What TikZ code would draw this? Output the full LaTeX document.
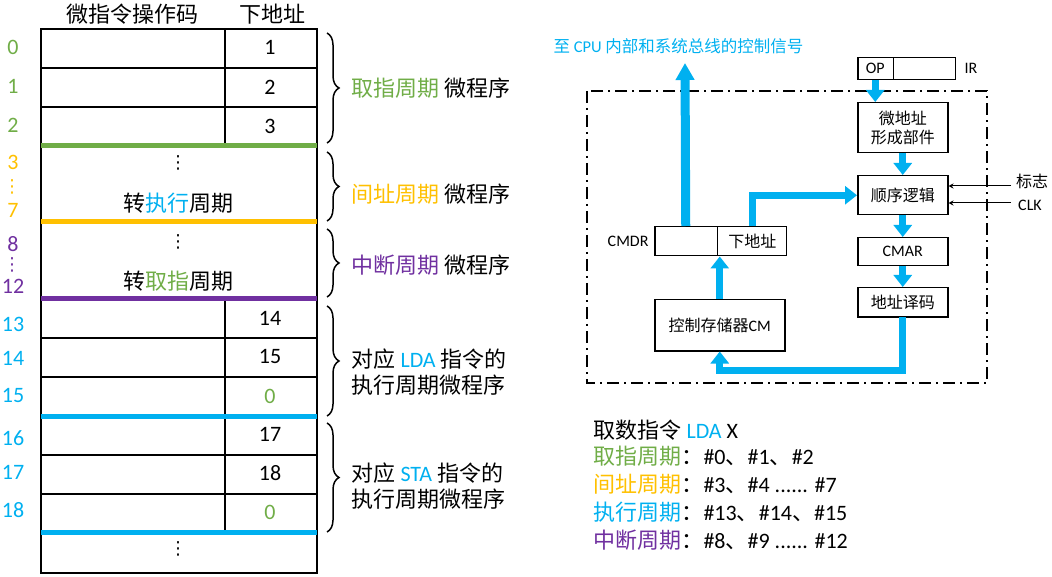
\documentclass[tikz,border=0pt]{standalone}
\usepackage{fontspec}
\setmainfont{Carlito}
\newfontfamily\cjk{Noto Sans CJK SC}
\newfontfamily\sym{DejaVu Sans}
\usepackage{xcolor}
\usepackage{tikz}
\usetikzlibrary{arrows.meta,positioning,decorations.pathreplacing,shapes.multipart}
\definecolor{cgreen}{HTML}{70AD47}
\definecolor{corange}{HTML}{FFC000}
\definecolor{cblue}{HTML}{00B0F0}
\definecolor{cpurple}{HTML}{7030A0}

\begin{document}
\begin{tikzpicture}[x=1pt, y=-1pt, font=\fontsize{22}{26}\selectfont]
        \tikzset{grid/.style={line width=2pt}}
        \tikzset{sepline/.style={line width=5pt}}
        \tikzset{vdots/.style={font=\sym\fontsize{18}{20}\selectfont}}
        \tikzset{brace/.style={decorate, decoration={brace, amplitude=12pt}, line width=1.5pt}}
        \tikzset{box/.style={draw, line width=1.5pt, inner sep=0pt, anchor=north west, font=\fontsize{16}{19}\selectfont}}
        \tikzset{twobox/.style={box, rectangle split, rectangle split horizontal, rectangle split parts=2}}
        \tikzset{bus/.style={line width=7pt, cblue, -{Triangle[length=12pt,width=18pt]}}}
        \tikzset{sig/.style={line width=1pt, -{Stealth[length=5pt,width=5pt]}}}
        \tikzset{frame/.style={line width=1.3pt, dash pattern=on 12pt off 5pt on 2pt off 5pt}}
        \useasboundingbox (0,0) rectangle (1052,577);

        \node (hop) at (132,14) {\cjk 微指令操作码};
        \node (had) at (272,14) {\cjk 下地址};

        \draw [grid] (41,29) rectangle (317,573);
        \foreach \y in {68, 107, 338, 377, 455, 494}
            \draw [grid] (41,\y) -- (317,\y);
        \draw [grid] (225,29) -- (225,146);
        \draw [grid] (225,299) -- (225,532);

        \foreach \n/\y/\a in {0/47/1, 1/87/2, 2/126/3, 13/318/14, 14/356/15, 15/396/{\textcolor{cgreen}{0}}, 16/434/17, 17/473/18, 18/512/{\textcolor{cgreen}{0}}}
            \node (ad\n) at (270,\y) {\a};
        \node [vdots] (dots1) at (178,163) {⋮};
        \node (go1) at (178,203) {\cjk 转\textcolor{cblue}{执行}周期};
        \node [vdots] (dots2) at (178,242) {⋮};
        \node (go2) at (178,281) {\cjk 转\textcolor{cgreen}{取指}周期};
        \node [vdots] (dots3) at (178,549) {⋮};

        \foreach \n/\y/\c in {0/47/cgreen, 1/86/cgreen, 2/125/cgreen, 3/162/corange, 7/210/corange, 8/244/cpurple, 12/286/cpurple, 13/324/cblue, 14/358/cblue, 15/395/cblue, 16/438/cblue, 17/472/cblue, 18/510/cblue}
            \node [text=\c] (n\n) at (13,\y) {\n};
        \node [vdots, text=corange] (nd1) at (12,187) {⋮};
        \node [vdots, text=cpurple] (nd2) at (12,265) {⋮};

        \draw [sepline, cgreen] (41,146) -- (317,146);
        \draw [sepline, corange] (41,222) -- (317,222);
        \draw [sepline, cpurple] (41,299) -- (317,299);
        \draw [sepline, cblue] (41,416) -- (317,416);
        \draw [sepline, cblue] (41,532) -- (317,532);

        \draw [brace] (327,33) -- (327,143);
        \draw [brace] (327,152) -- (327,221);
        \draw [brace] (327,229) -- (327,297);
        \draw [brace] (327,306) -- (327,416);
        \draw [brace] (327,423) -- (327,532);
        \node [anchor=west] (lab1) at (348,88) {\textcolor{cgreen}{\cjk 取指周期} {\cjk 微程序}};
        \node [anchor=west] (lab2) at (348,194) {\textcolor{corange}{\cjk 间址周期} {\cjk 微程序}};
        \node [anchor=west] (lab3) at (348,265) {\textcolor{cpurple}{\cjk 中断周期} {\cjk 微程序}};
        \node [anchor=west, align=left] (lab4) at (348,372) {{\cjk 对应} \textcolor{cblue}{LDA} {\cjk 指令的}\\{\cjk 执行周期微程序}};
        \node [anchor=west, align=left] (lab5) at (348,486) {{\cjk 对应} \textcolor{cblue}{STA} {\cjk 指令的}\\{\cjk 执行周期微程序}};

        \draw [frame] (587,91) rectangle (987,383);
        \node [twobox, minimum height=22pt] (ir) at (857,57) {\makebox[35pt]{OP}\nodepart{two}\makebox[61pt]{}};
        \node [right=5pt of ir, font=\fontsize{16}{19}\selectfont] (irl) {IR};
        \node [box, minimum width=90pt, minimum height=50pt, align=center] (maddr) at (857,102) {\cjk 微地址\\\cjk 形成部件};
        \node [box, minimum width=90pt, minimum height=39pt] (seq) at (857,175) {\cjk 顺序逻辑};
        \node [box, minimum width=90pt, minimum height=28pt] (cmar) at (857,237) {CMAR};
        \node [box, minimum width=90pt, minimum height=29pt] (adec) at (857,287) {\cjk 地址译码};
        \node [box, minimum width=130pt, minimum height=51pt] (cm) at (654,299) {{\cjk 控制存储器}CM};
        \node [twobox, minimum height=29pt] (cmdr) at (654,226) {\makebox[62pt]{}\nodepart{two}\makebox[68pt]{\cjk 下地址}};
        \node [left=2pt of cmdr, font=\fontsize{16}{19}\selectfont] (cmdrl) {CMDR};
        \node [anchor=west, text=cblue, font=\fontsize{16.5}{19}\selectfont] (sigl) at (550,46) {{\cjk 至} CPU {\cjk 内部和系统总线的控制信号}};
        \coordinate (out) at (685,63);
        \node [font=\fontsize{16}{19}\selectfont] (flagl) at (1032,181) {\cjk 标志};
        \node [font=\fontsize{16}{19}\selectfont] (clkl) at (1030,205) {CLK};
        \coordinate (flag) at (1011,186);
        \coordinate (clk) at (1011,203);

        \draw [bus] (ir.one south) -- (ir.one south |- maddr.north);
        \draw [bus] (maddr.south) -- (seq.north);
        \draw [bus] (seq.south) -- (cmar.north);
        \draw [bus] (cmar.south) -- (adec.north);
        \draw [bus] (adec.south) -- ++(0,53) -| (cm.south);
        \draw [bus] (cm.north) -- (cm.north |- cmdr.south);
        \draw [bus] (cmdr.two north) |- (seq.west);
        \draw [bus, line width=9pt, -{Triangle[length=17pt,width=18pt]}] (cmdr.one north) -- (out);
        \draw [sig] (flag) -- (flag -| seq.east);
        \draw [sig] (clk) -- (clk -| seq.east);

        \node [anchor=west] (lda) at (590,430) {{\cjk 取数指令} \textcolor{cblue}{LDA} X};
        \node [anchor=west] (fetch) at (590,456) {\textcolor{cgreen}{\cjk 取指周期}{\cjk ：}\#0{\cjk 、}\#1{\cjk 、}\#2};
        \node [anchor=west] (indir) at (590,484) {\textcolor{corange}{\cjk 间址周期}{\cjk ：}\#3{\cjk 、}\#4 ...... \#7};
        \node [anchor=west] (exec) at (590,512) {\textcolor{cblue}{\cjk 执行周期}{\cjk ：}\#13{\cjk 、}\#14{\cjk 、}\#15};
        \node [anchor=west] (irq) at (590,540) {\textcolor{cpurple}{\cjk 中断周期}{\cjk ：}\#8{\cjk 、}\#9 ...... \#12};
    \end{tikzpicture}
\end{document}
